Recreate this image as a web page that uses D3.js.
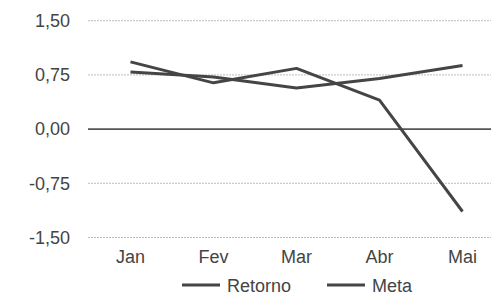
<!DOCTYPE html>
<html><head><meta charset="utf-8">
<script src="https://cdn.jsdelivr.net/npm/d3@7"></script>
<style>body{margin:0;background:#fff}svg{display:block}</style>
</head><body>
<script>
const categories = ["Jan","Fev","Mar","Abr","Mai"];
const retorno = [0.93, 0.64, 0.84, 0.40, -1.14];
const meta = [0.79, 0.72, 0.57, 0.70, 0.88];
const seriesNames = ["Retorno","Meta"];
const yTicks = [-1.5, -0.75, 0, 0.75, 1.5];

const W = 491, H = 295;
const svg = d3.select("body").append("svg").attr("width", W).attr("height", H);
const x = d3.scaleBand().domain(categories).range([89, 504]);
const y = d3.scaleLinear().domain([-1.5, 1.5]).range([237.5, 20.7]);
const font = "'Liberation Sans', Arial, sans-serif";
const lineCol = "#454545";

// grid
svg.append("g").selectAll("line").data(yTicks).join("line")
  .attr("x1", 88).attr("x2", W)
  .attr("y1", d => y(d)).attr("y2", d => y(d))
  .attr("stroke", d => d === 0 ? "#555" : "#bdbdbd")
  .attr("stroke-width", d => d === 0 ? 1.6 : 1)
  .attr("stroke-dasharray", d => d === 0 ? null : "2,1");

// y axis labels
const yAxis = d3.axisLeft(y).tickValues(yTicks).tickSize(0).tickPadding(0)
  .tickFormat(d => d3.format(".2f")(d).replace("−", "-").replace(".", ","));
const ya = svg.append("g").attr("transform", "translate(70,0)").call(yAxis);
ya.select(".domain").remove();
ya.selectAll("text").attr("font-family", font).attr("font-size", 18).attr("fill", "#444");

// x axis labels
const xAxis = d3.axisBottom(x).tickSize(0).tickPadding(0);
const xa = svg.append("g").attr("transform", "translate(0,250)").call(xAxis);
xa.select(".domain").remove();
xa.selectAll("text").attr("font-family", font).attr("font-size", 18).attr("fill", "#444");

const line = d3.line().x((d, i) => x(categories[i]) + x.bandwidth() / 2).y(d => y(d));
[retorno, meta].forEach(s => {
  svg.append("path").datum(s).attr("d", line)
    .attr("fill", "none").attr("stroke", lineCol).attr("stroke-width", 3)
    .attr("stroke-linejoin", "round");
});

// legend
const legX = [182, 327];
seriesNames.forEach((n, i) => {
  svg.append("line").attr("x1", legX[i]).attr("x2", legX[i] + 38)
    .attr("y1", 285).attr("y2", 285).attr("stroke", lineCol).attr("stroke-width", 3);
  svg.append("text").attr("x", legX[i] + 45).attr("y", 291.5)
    .attr("font-family", font).attr("font-size", 18).attr("fill", "#444").text(n);
});
</script>
</body></html>
